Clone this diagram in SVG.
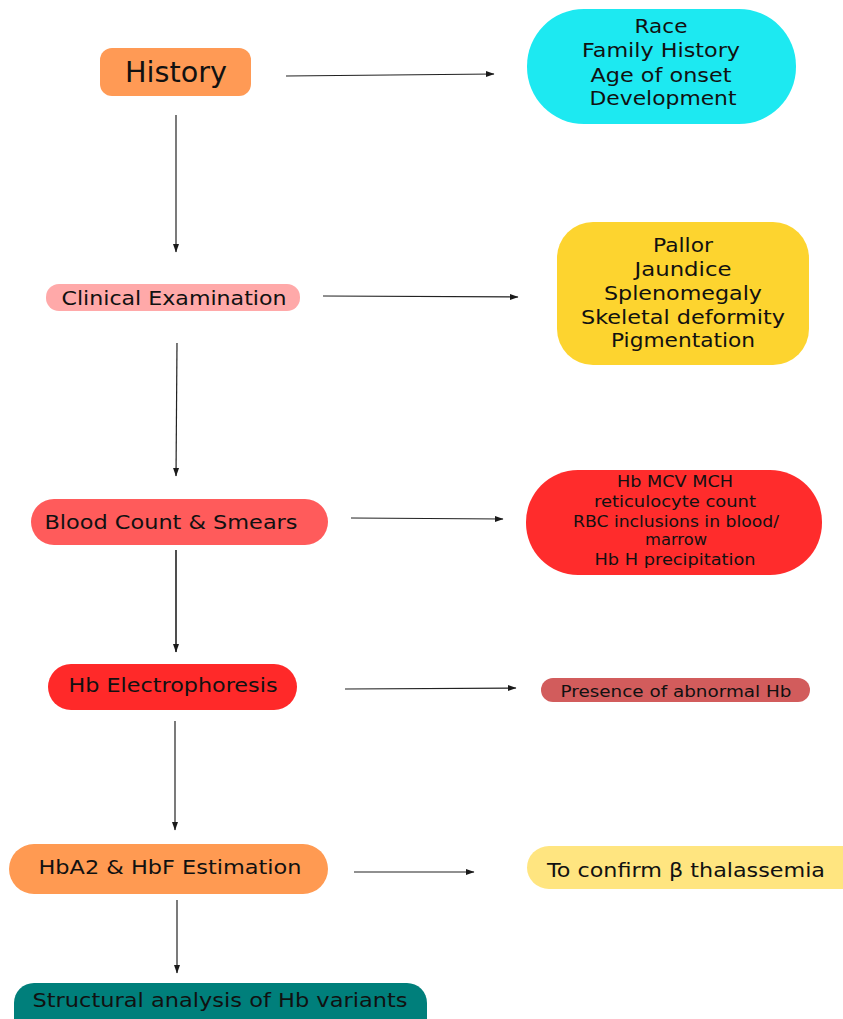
<svg xmlns="http://www.w3.org/2000/svg" width="843" height="1019" viewBox="0 0 843 1019">
<defs>
<marker id="ah" markerWidth="9" markerHeight="7" refX="8" refY="3.5" orient="auto" markerUnits="userSpaceOnUse">
<path d="M0,0.5 L8.5,3.5 L0,6.5 z" fill="#1a1a1a"/>
</marker>
<style>
text{font-family:"DejaVu Sans","Verdana",sans-serif;fill:#111;text-anchor:middle}
.c{stroke:#222;stroke-width:1.2;fill:none;marker-end:url(#ah)}
</style>
</defs>
<rect width="843" height="1019" fill="#fff"/>
<g id="connectors">
<line class="c" x1="286" y1="76" x2="494" y2="74"/>
<line class="c" x1="323" y1="296" x2="518" y2="297"/>
<line class="c" x1="351" y1="518" x2="503" y2="519"/>
<line class="c" x1="345" y1="689" x2="516" y2="688"/>
<line class="c" x1="354" y1="872" x2="474" y2="872"/>
<line class="c" x1="176" y1="115" x2="176" y2="252"/>
<line class="c" x1="177" y1="343" x2="176" y2="476"/>
<line class="c" x1="176" y1="550" x2="176" y2="652" style="stroke-width:1.6"/>
<line class="c" x1="175" y1="721" x2="175" y2="830"/>
<line class="c" x1="177" y1="900" x2="177" y2="973"/>
</g>
<g id="history">
<rect x="100" y="48" width="151" height="48" rx="12" fill="#FF9A55"/>
<text x="176" y="82" font-size="28" textLength="102" lengthAdjust="spacingAndGlyphs">History</text>
</g>
<g id="history-details">
<rect x="527" y="9" width="269" height="115" rx="57" fill="#1DE9F1"/>
<text x="661" y="33" font-size="19.5" textLength="53" lengthAdjust="spacingAndGlyphs">Race</text>
<text x="661" y="57" font-size="19.5" textLength="158" lengthAdjust="spacingAndGlyphs">Family History</text>
<text x="661" y="82" font-size="19.5" textLength="141" lengthAdjust="spacingAndGlyphs">Age of onset</text>
<text x="663" y="105" font-size="19.5" textLength="147" lengthAdjust="spacingAndGlyphs">Development</text>
</g>
<g id="clinical">
<rect x="46" y="284" width="254" height="27" rx="13" fill="#FFA9A9"/>
<text x="174" y="305" font-size="19" textLength="225" lengthAdjust="spacingAndGlyphs">Clinical Examination</text>
</g>
<g id="clinical-details">
<rect x="557" y="222" width="252" height="143" rx="36" fill="#FDD42F"/>
<text x="683" y="252" font-size="19.5" textLength="60" lengthAdjust="spacingAndGlyphs">Pallor</text>
<text x="683" y="276" font-size="19.5" textLength="97" lengthAdjust="spacingAndGlyphs">Jaundice</text>
<text x="683" y="300" font-size="19.5" textLength="158" lengthAdjust="spacingAndGlyphs">Splenomegaly</text>
<text x="683" y="324" font-size="19.5" textLength="204" lengthAdjust="spacingAndGlyphs">Skeletal deformity</text>
<text x="683" y="347" font-size="19.5" textLength="144" lengthAdjust="spacingAndGlyphs">Pigmentation</text>
</g>
<g id="blood">
<rect x="31" y="499" width="297" height="46" rx="23" fill="#FF5B5B"/>
<text x="171" y="529" font-size="19" textLength="253" lengthAdjust="spacingAndGlyphs">Blood Count &amp; Smears</text>
</g>
<g id="blood-details">
<rect x="526" y="470" width="296" height="105" rx="52" fill="#FF2C2C"/>
<text x="675" y="487" font-size="15.5" textLength="116" lengthAdjust="spacingAndGlyphs">Hb MCV MCH</text>
<text x="675" y="507" font-size="15.5" textLength="162" lengthAdjust="spacingAndGlyphs">reticulocyte count</text>
<text x="676" y="527" font-size="15.5" textLength="206" lengthAdjust="spacingAndGlyphs">RBC inclusions in blood/</text>
<text x="676" y="545" font-size="15.5" textLength="62" lengthAdjust="spacingAndGlyphs">marrow</text>
<text x="675" y="565" font-size="15.5" textLength="161" lengthAdjust="spacingAndGlyphs">Hb H precipitation</text>
</g>
<g id="electrophoresis">
<rect x="48" y="664" width="249" height="46" rx="23" fill="#FF2929"/>
<text x="173" y="692" font-size="19" textLength="209" lengthAdjust="spacingAndGlyphs">Hb Electrophoresis</text>
</g>
<g id="electrophoresis-details">
<rect x="541" y="678" width="269" height="24" rx="12" fill="#D25C5C"/>
<text x="676" y="697" font-size="15.5" textLength="231" lengthAdjust="spacingAndGlyphs">Presence of abnormal Hb</text>
</g>
<g id="hba2">
<rect x="9" y="844" width="319" height="50" rx="25" fill="#FF9A52"/>
<text x="170" y="874" font-size="19" textLength="263" lengthAdjust="spacingAndGlyphs">HbA2 &amp; HbF Estimation</text>
</g>
<g id="hba2-details">
<rect x="527" y="846" width="340" height="43" rx="22" fill="#FFE580"/>
<text x="686" y="877" font-size="20" textLength="278" lengthAdjust="spacingAndGlyphs">To confirm β thalassemia</text>
</g>
<g id="structural">
<rect x="14" y="983" width="413" height="56" rx="20" fill="#007F7B"/>
<text x="220" y="1007" font-size="19" textLength="375" lengthAdjust="spacingAndGlyphs">Structural analysis of Hb variants</text>
</g>
</svg>
